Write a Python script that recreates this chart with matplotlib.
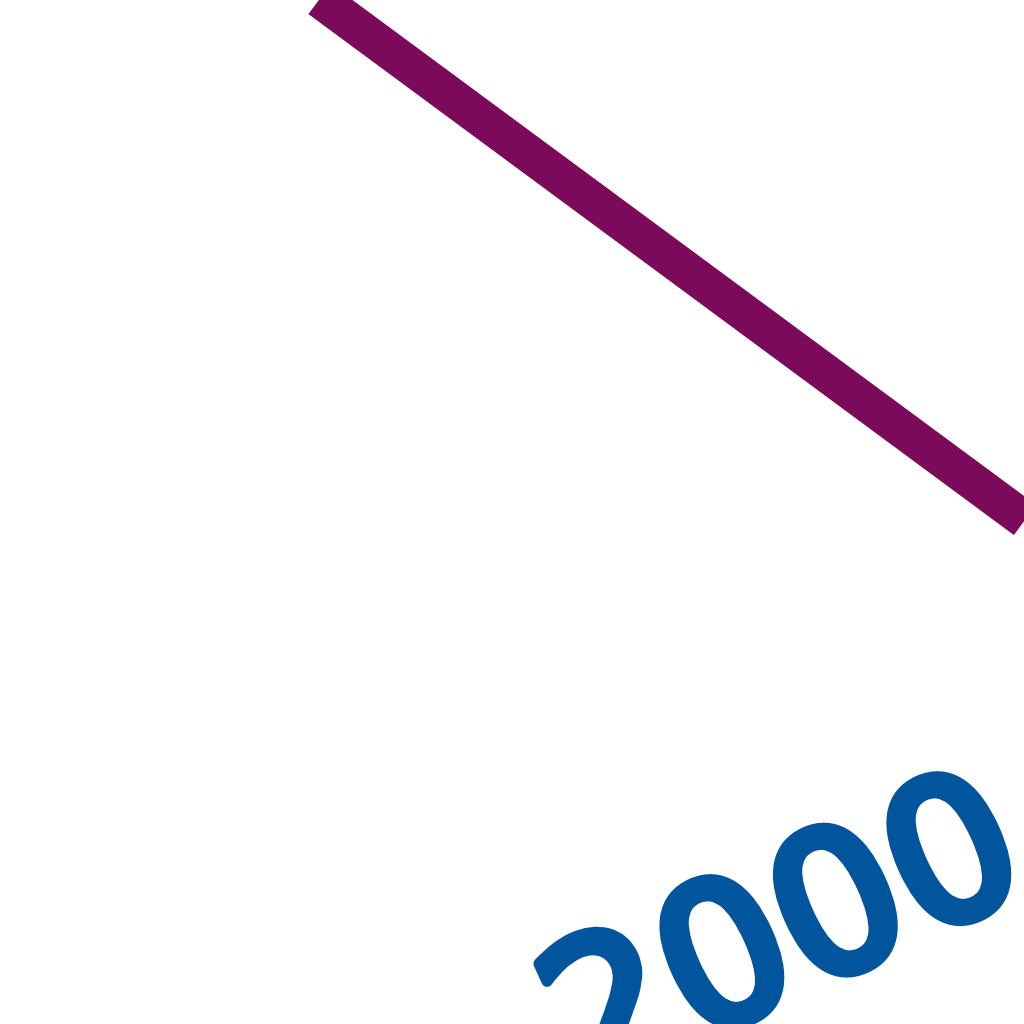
import matplotlib
matplotlib.use("Agg")
import matplotlib.pyplot as plt
import matplotlib.patheffects as pe

# Data (zoomed-in piece of a time series)
years = [1999.0, 2001.5]
values = [63.35, 33.81]
label_year = 2000.473
label_value = 21.3
label_text = "2000"

line_color = "#7B0A5A"
label_color = "#01559D"

fig = plt.figure(figsize=(10.24, 10.24), dpi=100)
ax = fig.add_axes([0, 0, 1, 1])

ax.plot(years, values, color=line_color, linewidth=27, solid_capstyle="butt")

ax.text(label_year, label_value, label_text, color=label_color,
        fontsize=141, family="DejaVu Sans",
        rotation=24.4, rotation_mode="anchor", ha="center", va="baseline",
        path_effects=[pe.withStroke(linewidth=8, foreground=label_color)])

ax.set_xlim(1998.5, 2001.0)
ax.set_ylim(20, 60)
ax.axis("off")

fig.savefig("out.png", dpi=100)
